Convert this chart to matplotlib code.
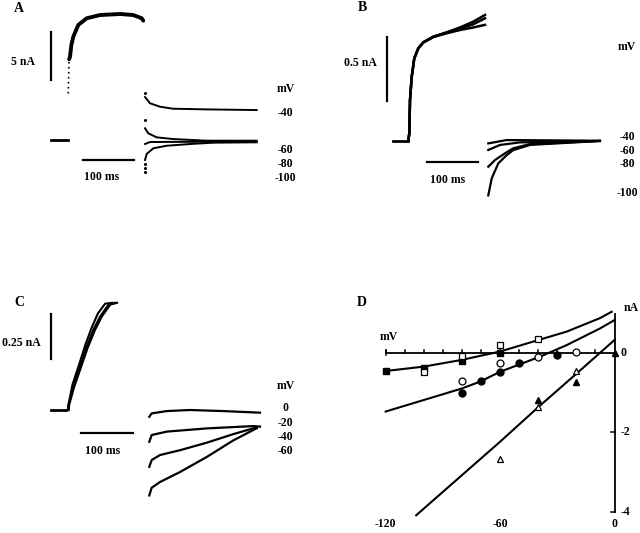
import matplotlib.pyplot as plt

plt.rcParams['font.family'] = ['Liberation Serif', 'DejaVu Serif']
plt.rcParams['font.weight'] = 'bold'

W, H = 640, 533

# ---------------- panel A : currents (nA) vs time (ms) ----------------
a_base_t = [-33, -1]
a_base_i = [0, 0]
a_rise_t = [0, 0.7, 1.6]
a_rise_i = [4.9, 6.9, 8.5]
a_act_t = [1.6, 3.3, 6, 9.7, 19.3, 35.6, 61.3, 100, 125.7, 142, 145]
a_act_i = [8.5, 8.76, 10.0, 10.86, 12.09, 12.79, 13.13, 13.24, 13.13, 12.79, 12.54]
a_tails = {
    '-40': ([148.4, 158, 177.4, 202.5, 267.7, 364.4], [4.54, 3.88, 3.52, 3.31, 3.24, 3.17]),
    '-60': ([148.4, 154.7, 171, 203.1, 267.7, 364.4], [1.26, 0.73, 0.31, 0.13, -0.04, -0.04]),
    '-80': ([148.4, 158, 230, 364.4], [-0.39, -0.18, -0.16, -0.15]),
    '-100': ([148.4, 151.6, 164.4, 190.3, 235.4, 280.5, 364.4],
             [-2.06, -1.43, -0.84, -0.57, -0.39, -0.25, -0.21]),
}
a_dots_t = [148.4, 148.4, 148.4, 148.4, 148.4]
a_dots_i = [4.96, 2.13, -2.5, -2.9, -3.3]
a_labels = ['mV', '-40', '-60', '-80', '-100']

# ---------------- panel B ----------------
b_base_t = [-30, 0]
b_base_i = [0, 0]
b_act_t = [0, 0, 2, 3.4, 6.8, 11.9, 19.9, 29.8, 49.7, 76.3, 102.8, 129.2, 152.4]
b_act_1 = [0, 0, 0.057, 0.316, 0.497, 0.640, 0.718, 0.765, 0.808, 0.842, 0.880, 0.925, 0.977]
b_act_2 = [0, 0, 0.057, 0.316, 0.497, 0.640, 0.718, 0.765, 0.808, 0.840, 0.870, 0.905, 0.951]
b_act_3 = [0, 0, 0.057, 0.316, 0.497, 0.640, 0.718, 0.762, 0.805, 0.835, 0.860, 0.880, 0.900]
b_tails = {
    '-40': ([159, 195.6, 381], [-0.021, 0.005, 0.0]),
    '-60': ([159, 182.3, 222.1, 381], [-0.072, -0.033, -0.013, -0.002]),
    '-80': ([159, 172.4, 192.2, 208.7, 242, 381], [-0.202, -0.150, -0.098, -0.059, -0.026, -0.002]),
    '-100': ([159, 165.8, 178.9, 195.6, 208.7, 242, 381],
             [-0.425, -0.293, -0.176, -0.112, -0.073, -0.033, -0.002]),
}
b_labels = ['mV', '-40', '-60', '-80', '-100']

# ---------------- panel C ----------------
c_base_t = [-33, -4]
c_base_i = [0, 0]
c_act = [
    ([0, 1.2, 10.8, 23.7, 36.5, 49.2, 62.1, 78.1, 91], [0.0, 0.028, 0.130, 0.242, 0.354, 0.448, 0.522, 0.588, 0.600]),
    ([2, 3, 12, 25, 38, 52, 66, 82, 95], [0.0, 0.03, 0.125, 0.235, 0.345, 0.445, 0.525, 0.590, 0.600]),
    ([1, 2, 9, 22, 34, 46, 58, 72, 86], [0.0, 0.035, 0.14, 0.255, 0.365, 0.46, 0.54, 0.595, 0.600]),
]
c_tails = {
    '0': ([156.9, 161.5, 190.4, 235.2, 299.2, 369.8], [-0.038, -0.019, -0.006, 0.0, -0.006, -0.015]),
    '-20': ([156.9, 161.5, 190.4, 267.3, 356.9, 369.8], [-0.178, -0.140, -0.121, -0.103, -0.090, -0.093]),
    '-40': ([156.9, 161.5, 177.5, 216, 267.3, 318.5, 363.5], [-0.318, -0.280, -0.252, -0.225, -0.183, -0.135, -0.097]),
    '-60': ([156.9, 161.5, 177.5, 216, 267.3, 318.5, 363.5], [-0.478, -0.435, -0.403, -0.347, -0.263, -0.170, -0.102]),
}
c_labels = ['mV', '0', '-20', '-40', '-60']

# ---------------- panel D : I-V relation ----------------
sq_f_v = [-120, -100, -80, -60]
sq_f_i = [-0.46, -0.38, -0.21, 0.0]
sq_o_v = [-100, -80, -60, -40]
sq_o_i = [-0.48, -0.08, 0.19, 0.34]
ci_f_v = [-80, -70, -60, -50, -30]
ci_f_i = [-1.01, -0.71, -0.48, -0.27, -0.06]
ci_o_v = [-80, -60, -40, -20]
ci_o_i = [-0.71, -0.25, -0.12, 0.03]
tr_f_v = [-40, -20, 0]
tr_f_i = [-1.19, -0.73, -0.02]
tr_o_v = [-60, -40, -20]
tr_o_i = [-2.68, -1.37, -0.46]
fit1_v = [-120, -100, -80, -60, -42.6, -25.1, -7.6, -1.5]
fit1_i = [-0.46, -0.35, -0.18, 0.03, 0.28, 0.53, 0.87, 1.03]
fit2_v = [-120, -100, -80, -70.6, -60, -39.1, -25.1, -7.6, 0]
fit2_i = [-1.48, -1.19, -0.90, -0.73, -0.48, -0.10, 0.19, 0.61, 0.82]
fit3_v = [-104, -60, -40, -20, 0]
fit3_i = [-4.09, -2.24, -1.37, -0.53, 0.32]
d_xticks = [-120, -60, 0]
d_yticks = [0, -2, -4]

fig = plt.figure(figsize=(W / 100, H / 100), dpi=100)


def panel(box, origin, sx, sy):
    x0, y0, x1, y1 = box
    ax = fig.add_axes([x0 / W, 1 - y1 / H, (x1 - x0) / W, (y1 - y0) / H])
    ax.set_xlim((x0 - origin[0]) / sx, (x1 - origin[0]) / sx)
    ax.set_ylim((origin[1] - y1) / sy, (origin[1] - y0) / sy)
    ax.axis('off')
    return ax


def ftext(x, y, s, size=8.5, **kw):
    fig.text(x / W, 1 - y / H, s, ha='center', va='center', fontsize=size, fontweight='bold', **kw)


k = 'black'

# A
ax = panel((0, 0, 320, 260), (68.3, 140.3), 0.517, 9.54)
ax.plot(a_base_t, a_base_i, color=k, lw=2)
ax.plot(a_rise_t, a_rise_i, color=k, lw=1.2, ls=(0, (1, 2)))
ax.plot(a_act_t, a_act_i, color=k, lw=2.8, solid_capstyle='round')
for t, i in a_tails.values():
    ax.plot(t, i, color=k, lw=1.4)
ax.plot(a_dots_t, a_dots_i, 'o', color=k, ms=1.2)
ax.plot([-34, -34], [6.3, 6.3 + 5], color=k, lw=1.6)
ax.plot([28, 128], [-2.07, -2.07], color=k, lw=1.6)
ftext(19, 8.3, 'A', 10)
ftext(22.7, 62.3, '5 nA')
ftext(101.7, 176.7, '100 ms')
for s, y in zip(a_labels, [89.3, 112.7, 150, 164, 178]):
    ftext(285.7, y, s)

# B
ax = panel((320, 0, 640, 260), (408.3, 140.7), 0.503, 128.7)
ax.plot(b_base_t, b_base_i, color=k, lw=2)
for arr in (b_act_1, b_act_2, b_act_3):
    ax.plot(b_act_t, arr, color=k, lw=1.8)
for t, i in b_tails.values():
    ax.plot(t, i, color=k, lw=1.6)
ax.plot([-42.9, -42.9], [0.308, 0.308 + 0.5], color=k, lw=1.6)
ax.plot([37.8, 137.8], [-0.163, -0.163], color=k, lw=1.6)
ftext(362.8, 7.5, 'B', 10)
ftext(360.2, 63.3, '0.5 nA')
ftext(447.7, 180, '100 ms')
for s, y in zip(b_labels, [46.7, 136.7, 150.7, 164.3, 192.7]):
    ftext(627, y, s)

# C
ax = panel((0, 260, 320, 533), (67.7, 410), 0.52, 178.7)
ax.plot(c_base_t, c_base_i, color=k, lw=2)
for t, i in c_act:
    ax.plot(t, i, color=k, lw=1.5)
for t, i in c_tails.values():
    ax.plot(t, i, color=k, lw=1.6)
ax.plot([-32.7, -32.7], [0.285, 0.285 + 0.25], color=k, lw=1.6)
ax.plot([25, 125], [-0.130, -0.130], color=k, lw=1.6)
ftext(19.3, 302.8, 'C', 10)
ftext(21.7, 342.7, '0.25 nA')
ftext(103, 450.7, '100 ms')
for s, y in zip(c_labels, [386, 408.3, 422.7, 436.7, 450.7]):
    ftext(285.7, y, s)

# D
ax = panel((320, 260, 640, 533), (614.5, 352.7), 1.907, 39.75)
ax.plot([-120, 0], [0, 0], color=k, lw=1.3)
ax.plot([0, 0], [0.98, -4], color=k, lw=1.3)
for v in range(-120, 0, 10):
    ax.plot([v, v], [0, 0.07], color=k, lw=1.1)
ax.plot([-120, -120], [-0.07, 0.07], color=k, lw=1.1)
for i in d_yticks[1:]:
    ax.plot([-1.7, 0], [i, i], color=k, lw=1.1)
ax.plot(fit1_v, fit1_i, color=k, lw=1.5)
ax.plot(fit2_v, fit2_i, color=k, lw=1.5)
ax.plot(fit3_v, fit3_i, color=k, lw=1.5)
ms = 5
ax.plot(sq_f_v, sq_f_i, 's', color=k, ms=ms)
ax.plot(sq_o_v, sq_o_i, 's', mfc='white', mec=k, mew=0.9, ms=ms)
ax.plot(ci_f_v, ci_f_i, 'o', color=k, ms=ms)
ax.plot(ci_o_v, ci_o_i, 'o', mfc='white', mec=k, mew=0.9, ms=ms)
ax.plot(tr_f_v, tr_f_i, '^', color=k, ms=ms)
ax.plot(tr_o_v, tr_o_i, '^', mfc='white', mec=k, mew=0.9, ms=ms)
for v in d_xticks:
    ax.text(v, -4.31, str(v), ha='center', va='center', fontsize=8.5, fontweight='bold')
for i in d_yticks:
    ax.text(3.4, i, str(i), ha='left', va='center', fontsize=8.5, fontweight='bold')
ftext(388.3, 336.7, 'mV')
ftext(631.7, 308.3, 'nA')
ftext(361.7, 302.8, 'D', 10)

fig.savefig('out.png', dpi=100)
